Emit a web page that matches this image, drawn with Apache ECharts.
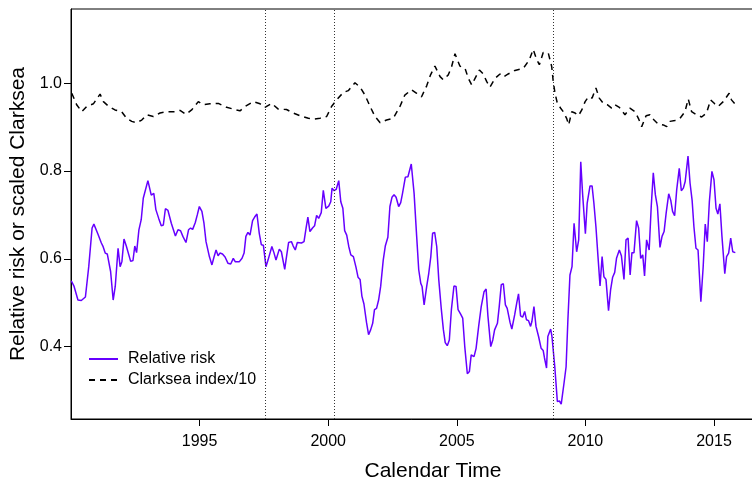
<!DOCTYPE html>
<html>
<head>
<meta charset="utf-8">
<script src="https://cdn.jsdelivr.net/npm/echarts@6/dist/echarts.min.js"></script>
<style>
html, body { margin: 0; padding: 0; background: #fff; }
#main { width: 752px; height: 480px; }
</style>
</head>
<body>
<div id="main"></div>
<script>
// relative risk (time in decimal years)
var rrTime = [1990.01,1990.12,1990.27,1990.40,1990.56,1990.69,1990.82,1990.89,1991.05,1991.18,1991.24,1991.33,1991.41,1991.54,1991.64,1991.72,1991.83,1991.91,1991.98,1992.06,1992.15,1992.21,1992.32,1992.41,1992.48,1992.55,1992.64,1992.73,1992.81,1992.99,1993.12,1993.22,1993.30,1993.41,1993.51,1993.59,1993.67,1993.77,1993.90,1994.06,1994.16,1994.26,1994.35,1994.47,1994.57,1994.65,1994.73,1994.83,1994.91,1994.99,1995.09,1995.17,1995.25,1995.38,1995.48,1995.56,1995.64,1995.72,1995.79,1995.89,1995.99,1996.10,1996.21,1996.31,1996.39,1996.54,1996.65,1996.73,1996.80,1996.88,1996.96,1997.06,1997.14,1997.23,1997.32,1997.40,1997.48,1997.58,1997.66,1997.81,1997.89,1997.97,1998.10,1998.18,1998.31,1998.36,1998.46,1998.57,1998.64,1998.72,1998.80,1998.96,1999.06,1999.14,1999.21,1999.29,1999.39,1999.47,1999.55,1999.63,1999.73,1999.81,1999.91,2000.02,2000.10,2000.15,2000.23,2000.31,2000.41,2000.49,2000.57,2000.64,2000.72,2000.80,2000.88,2000.98,2001.08,2001.16,2001.24,2001.31,2001.39,2001.49,2001.57,2001.65,2001.73,2001.80,2001.88,2001.96,2002.04,2002.14,2002.22,2002.32,2002.40,2002.48,2002.56,2002.64,2002.74,2002.82,2002.89,2003.00,2003.10,2003.23,2003.34,2003.44,2003.52,2003.60,2003.65,2003.73,2003.83,2003.91,2003.99,2004.06,2004.14,2004.22,2004.30,2004.40,2004.48,2004.55,2004.63,2004.71,2004.79,2004.89,2004.97,2005.05,2005.15,2005.23,2005.31,2005.41,2005.49,2005.56,2005.67,2005.75,2005.85,2005.95,2006.06,2006.14,2006.21,2006.32,2006.40,2006.47,2006.58,2006.65,2006.73,2006.81,2006.89,2006.96,2007.07,2007.14,2007.25,2007.33,2007.40,2007.48,2007.56,2007.64,2007.71,2007.79,2007.87,2007.92,2008.00,2008.08,2008.18,2008.28,2008.36,2008.41,2008.49,2008.54,2008.65,2008.70,2008.81,2008.91,2008.99,2009.06,2009.17,2009.25,2009.32,2009.40,2009.48,2009.56,2009.66,2009.74,2009.82,2009.89,2010.00,2010.07,2010.18,2010.26,2010.33,2010.41,2010.49,2010.57,2010.65,2010.72,2010.80,2010.90,2010.98,2011.06,2011.14,2011.21,2011.32,2011.40,2011.50,2011.58,2011.66,2011.74,2011.81,2011.89,2011.99,2012.07,2012.15,2012.23,2012.30,2012.38,2012.48,2012.56,2012.64,2012.72,2012.80,2012.90,2012.98,2013.06,2013.14,2013.24,2013.32,2013.39,2013.47,2013.55,2013.65,2013.73,2013.81,2013.88,2013.99,2014.07,2014.15,2014.22,2014.30,2014.38,2014.49,2014.58,2014.66,2014.74,2014.82,2014.92,2015.00,2015.08,2015.15,2015.23,2015.31,2015.42,2015.49,2015.57,2015.65,2015.73,2015.83];
var rrValue = [0.550,0.537,0.506,0.505,0.513,0.582,0.670,0.679,0.656,0.636,0.629,0.613,0.611,0.571,0.506,0.537,0.624,0.582,0.594,0.645,0.629,0.628,0.594,0.596,0.629,0.614,0.666,0.689,0.738,0.778,0.745,0.749,0.712,0.692,0.675,0.677,0.714,0.710,0.681,0.652,0.666,0.664,0.651,0.637,0.666,0.670,0.667,0.682,0.700,0.719,0.708,0.681,0.639,0.605,0.586,0.604,0.620,0.607,0.613,0.611,0.604,0.590,0.588,0.601,0.593,0.593,0.601,0.613,0.651,0.660,0.654,0.687,0.695,0.702,0.658,0.632,0.631,0.582,0.597,0.628,0.614,0.597,0.622,0.616,0.576,0.597,0.637,0.639,0.629,0.620,0.637,0.636,0.639,0.670,0.695,0.662,0.670,0.675,0.699,0.692,0.705,0.756,0.715,0.720,0.730,0.761,0.755,0.758,0.778,0.730,0.715,0.664,0.654,0.628,0.609,0.605,0.581,0.558,0.553,0.515,0.497,0.455,0.427,0.438,0.453,0.484,0.487,0.506,0.537,0.597,0.629,0.649,0.719,0.740,0.746,0.740,0.719,0.728,0.749,0.786,0.787,0.816,0.749,0.651,0.575,0.544,0.537,0.495,0.537,0.567,0.605,0.658,0.660,0.628,0.552,0.484,0.438,0.409,0.402,0.415,0.484,0.538,0.537,0.484,0.474,0.465,0.400,0.338,0.343,0.381,0.377,0.396,0.446,0.491,0.525,0.531,0.470,0.400,0.415,0.438,0.453,0.491,0.541,0.543,0.495,0.487,0.455,0.440,0.472,0.499,0.520,0.470,0.467,0.480,0.461,0.459,0.446,0.457,0.491,0.446,0.423,0.396,0.391,0.374,0.351,0.423,0.440,0.423,0.354,0.275,0.276,0.269,0.317,0.354,0.461,0.563,0.582,0.681,0.616,0.643,0.821,0.749,0.657,0.727,0.766,0.766,0.727,0.673,0.605,0.538,0.605,0.559,0.553,0.482,0.529,0.558,0.569,0.601,0.620,0.607,0.553,0.643,0.647,0.563,0.614,0.614,0.687,0.670,0.601,0.609,0.561,0.643,0.620,0.719,0.796,0.746,0.719,0.626,0.651,0.662,0.704,0.748,0.733,0.708,0.698,0.757,0.806,0.755,0.761,0.776,0.834,0.772,0.733,0.673,0.624,0.620,0.502,0.582,0.679,0.639,0.730,0.799,0.780,0.715,0.702,0.725,0.651,0.566,0.605,0.613,0.647,0.616,0.614];

// Clarksea index divided by 10
var csTime = [1990.03,1990.22,1990.42,1990.61,1990.87,1991.13,1991.26,1991.45,1991.71,1991.97,1992.16,1992.36,1992.55,1992.75,1992.94,1993.20,1993.46,1993.72,1994.04,1994.24,1994.47,1994.69,1994.95,1995.14,1995.40,1995.73,1996.05,1996.31,1996.57,1996.77,1997.09,1997.35,1997.54,1997.80,1998.06,1998.38,1998.64,1998.90,1999.23,1999.42,1999.68,1999.94,2000.13,2000.33,2000.59,2000.78,2001.04,2001.24,2001.43,2001.63,2001.82,2002.02,2002.27,2002.53,2002.79,2002.98,2003.24,2003.44,2003.63,2003.83,2003.98,2004.15,2004.35,2004.47,2004.67,2004.80,2004.93,2005.12,2005.32,2005.45,2005.58,2005.71,2005.88,2006.03,2006.16,2006.29,2006.49,2006.68,2006.81,2007.00,2007.26,2007.59,2007.82,2007.97,2008.10,2008.21,2008.36,2008.56,2008.69,2008.75,2008.82,2008.91,2009.04,2009.14,2009.27,2009.35,2009.47,2009.60,2009.73,2009.86,2009.99,2010.12,2010.26,2010.41,2010.54,2010.70,2010.85,2011.02,2011.15,2011.32,2011.54,2011.73,2011.93,2012.06,2012.19,2012.36,2012.51,2012.67,2012.83,2013.03,2013.16,2013.29,2013.48,2013.68,2013.87,2014.00,2014.13,2014.32,2014.52,2014.71,2014.87,2015.03,2015.16,2015.36,2015.59,2015.68,2015.81];
var csValue = [0.977,0.951,0.935,0.947,0.953,0.975,0.958,0.948,0.939,0.935,0.920,0.913,0.910,0.916,0.928,0.924,0.932,0.935,0.935,0.938,0.929,0.939,0.958,0.951,0.953,0.954,0.945,0.941,0.937,0.947,0.958,0.953,0.945,0.954,0.941,0.940,0.932,0.926,0.920,0.918,0.920,0.924,0.947,0.962,0.979,0.983,1.001,0.991,0.973,0.947,0.924,0.910,0.916,0.920,0.947,0.973,0.985,0.977,0.969,0.994,1.019,1.039,1.015,1.008,1.019,1.038,1.067,1.039,1.034,1.011,0.996,1.011,1.030,1.021,1.004,0.991,1.011,1.021,1.014,1.021,1.029,1.034,1.053,1.077,1.055,1.042,1.070,1.068,1.038,1.004,0.977,0.954,0.943,0.935,0.920,0.905,0.935,0.932,0.926,0.939,0.958,0.969,0.966,0.989,0.966,0.954,0.951,0.943,0.951,0.945,0.928,0.943,0.935,0.920,0.901,0.926,0.928,0.916,0.907,0.905,0.901,0.913,0.915,0.920,0.935,0.964,0.935,0.928,0.923,0.932,0.962,0.953,0.947,0.958,0.977,0.962,0.953];

// dotted event lines
var eventTimes = [1997.56, 2000.23, 2008.74];

var xTicks = [1995, 2000, 2005, 2010, 2015];
var yTicks = [0.4, 0.6, 0.8, 1.0];

function zip(a, b) {
    return a.map(function (t, i) { return [t, b[i]]; });
}

var font = 'Liberation Sans, Arial, Helvetica, sans-serif';
var myChart = echarts.init(document.getElementById('main'));

var option = {
    animation: false,
    backgroundColor: '#fff',
    textStyle: { fontFamily: font },
    grid: {
        left: 71,
        top: 9,
        width: 724,
        bottom: 61,
        outerBoundsMode: 'none',
        containLabel: false,
        show: true,
        borderColor: '#000',
        borderWidth: 1,
        backgroundColor: 'transparent'
    },
    legend: {
        orient: 'vertical',
        left: 83,
        top: 346,
        itemWidth: 29,
        itemHeight: 14,
        itemGap: 5,
        itemStyle: { opacity: 0 },
        textStyle: { fontSize: 16, color: '#000', fontFamily: font, padding: [0, 0, 0, 5] },
        data: ['Relative risk', 'Clarksea index/10']
    },
    xAxis: {
        type: 'value',
        min: 1990,
        max: 2018.15,
        name: 'Calendar Time',
        nameLocation: 'middle',
        nameGap: 42,
        nameTextStyle: { fontSize: 21, color: '#000' },
        axisLine: { show: true, lineStyle: { color: '#000' } },
        axisTick: { show: true, length: 7, customValues: xTicks, lineStyle: { color: '#000' } },
        axisLabel: {
            margin: 15, fontSize: 16, color: '#000', customValues: xTicks,
            formatter: function (v) { return String(v); }
        },
        splitLine: { show: false }
    },
    yAxis: {
        type: 'value',
        min: 0.235,
        max: 1.169,
        name: 'Relative risk or scaled Clarksea',
        nameLocation: 'middle',
        nameGap: 42,
        nameTextStyle: { fontSize: 21, color: '#000' },
        axisLine: { show: true, lineStyle: { color: '#000' } },
        axisTick: { show: true, length: 7, customValues: yTicks, lineStyle: { color: '#000' } },
        axisLabel: {
            margin: 9, fontSize: 16, color: '#000', customValues: yTicks,
            formatter: function (v) { return v.toFixed(1); }
        },
        splitLine: { show: false }
    },
    series: [
        {
            name: 'Relative risk',
            type: 'line',
            data: zip(rrTime, rrValue),
            showSymbol: false,
            symbol: 'none',
            color: '#6600ff',
            lineStyle: { width: 1.5, color: '#6600ff' },
            markLine: {
                silent: true,
                symbol: ['none', 'none'],
                label: { show: false },
                lineStyle: { type: [1, 2], color: '#333', width: 1 },
                data: eventTimes.map(function (t) { return { xAxis: t }; })
            }
        },
        {
            name: 'Clarksea index/10',
            type: 'line',
            data: zip(csTime, csValue),
            showSymbol: false,
            symbol: 'none',
            color: '#000',
            lineStyle: { width: 1.5, color: '#000', type: [6, 5] }
        }
    ]
};

myChart.setOption(option);
</script>
</body>
</html>
